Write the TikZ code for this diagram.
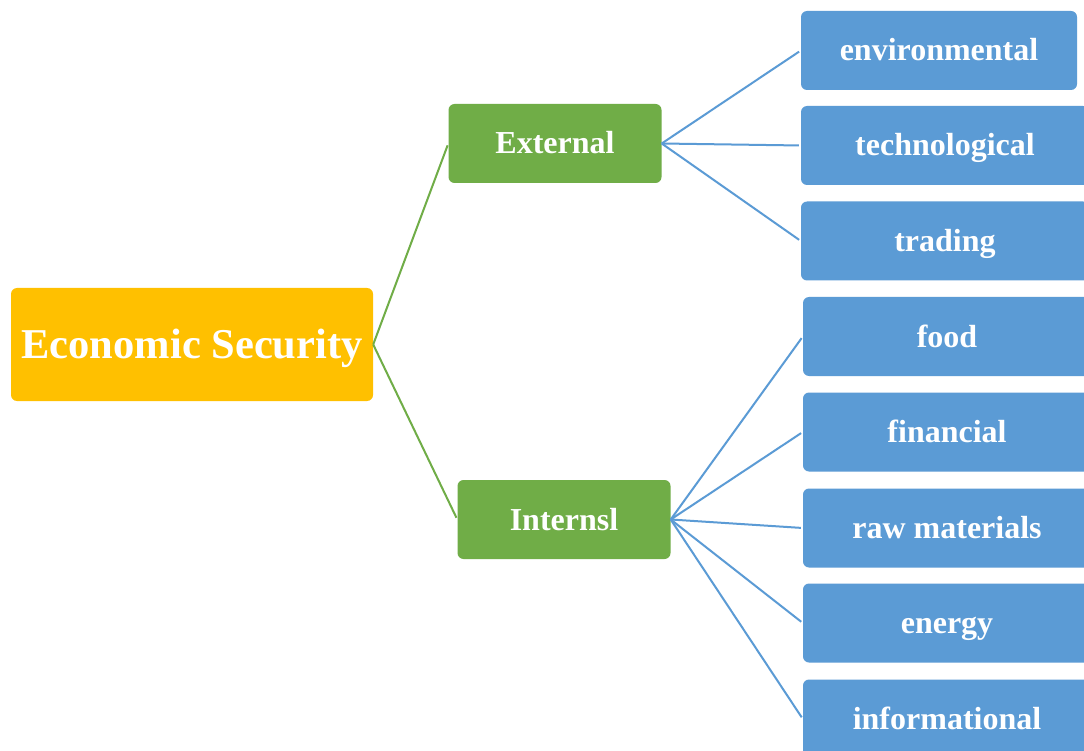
\documentclass[tikz,border=0pt]{standalone}
\usepackage{fontspec}
\setmainfont{Liberation Serif}
\definecolor{gold}{HTML}{FFC000}
\definecolor{leaf}{HTML}{70AD47}
\definecolor{sky}{HTML}{5B9BD5}
\begin{document}
\begin{tikzpicture}[x=1pt,y=-1pt,
  box/.style={rounded corners=6pt,inner sep=0pt,text=white,
    text height=24pt,text depth=3pt,
    font=\bfseries\fontsize{32}{38}\selectfont},
  rootbox/.style={box,fill=gold,minimum width=362pt,minimum height=113pt,
    text height=32pt,text depth=5pt,
    font=\bfseries\fontsize{42.5}{50}\selectfont},
  midbox/.style={box,fill=leaf,minimum width=213pt,minimum height=79pt},
  leafbox/.style={box,fill=sky,minimum width=288pt,minimum height=79pt},
  greenlink/.style={draw=leaf,line width=2pt,shorten >=2pt},
  bluelink/.style={draw=sky,line width=2pt,shorten >=2pt}]
\clip (0,0) rectangle (1084,751);
\fill[white] (0,0) rectangle (1084,751);

% root and the two branches
\node[rootbox] (es) at (192,344.5) {Economic Security};
\node[midbox] (ext) at (555,143.5) {External};
\node[midbox] (int) at (564,519.5) {Internsl};

% external factors
\node[leafbox,minimum width=276pt] (env) at (939,50.5) {environmental};
\node[leafbox] (tech) at (945,145.5) {technological};
\node[leafbox] (trade) at (945,241) {trading};

% internal factors
\node[leafbox] (food) at (947,336.5) {food};
\node[leafbox] (fin) at (947,432) {financial};
\node[leafbox] (raw) at (947,528) {raw materials};
\node[leafbox] (energy) at (947,623) {energy};
\node[leafbox] (info) at (947,719) {informational};

% connectors
\draw[greenlink] (es.east) -- (ext.west);
\draw[greenlink] (es.east) -- (int.west);
\foreach \t in {env,tech,trade}
  \draw[bluelink] (ext.east) -- (\t.west);
\foreach \t in {food,fin,raw,energy,info}
  \draw[bluelink] (int.east) -- (\t.west);
\end{tikzpicture}
\end{document}
